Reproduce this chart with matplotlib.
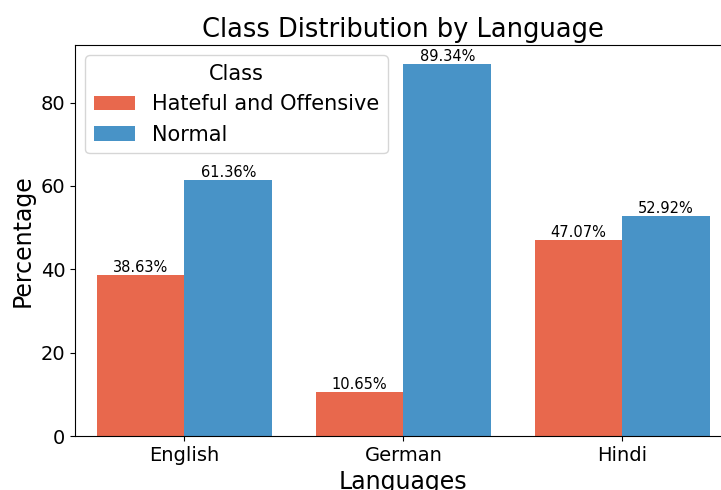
import numpy as np
import matplotlib
matplotlib.use("Agg")
import matplotlib.pyplot as plt

# datos
idiomas = ["English", "German", "Hindi"]
clases = ["Hateful and Offensive", "Normal"]
odio = [38.63, 10.65, 47.07]
normal = [61.36, 89.34, 52.92]
colores = ["#E8684D", "#4893C7"]

fig = plt.figure(figsize=(7.21, 4.9), dpi=100)
ax = fig.add_axes([0.104, 0.110, 0.911, 0.798])

x = np.arange(len(idiomas))
ancho = 0.4
barras_1 = ax.bar(x - ancho / 2, odio, ancho, color=colores[0], label=clases[0])
barras_2 = ax.bar(x + ancho / 2, normal, ancho, color=colores[1], label=clases[1])

# etiquetas encima de las barras
for barras in [barras_1, barras_2]:
    for b in barras:
        h = b.get_height()
        ax.text(b.get_x() + b.get_width() / 2, h, f"{h:.2f}%",
                ha="center", va="bottom", fontsize=10.5)

ax.set_xticks(x)
ax.set_xticklabels(idiomas)
ax.set_xlim(-0.5, 2.5)
ax.tick_params(labelsize=14)
ax.set_title("Class Distribution by Language", fontsize=18.5)
ax.set_xlabel("Languages", fontsize=17)
ax.set_ylabel("Percentage", fontsize=17)
ax.legend(title="Class", fontsize=15, title_fontsize=15, loc="upper left")

fig.savefig("out.png", dpi=100)
